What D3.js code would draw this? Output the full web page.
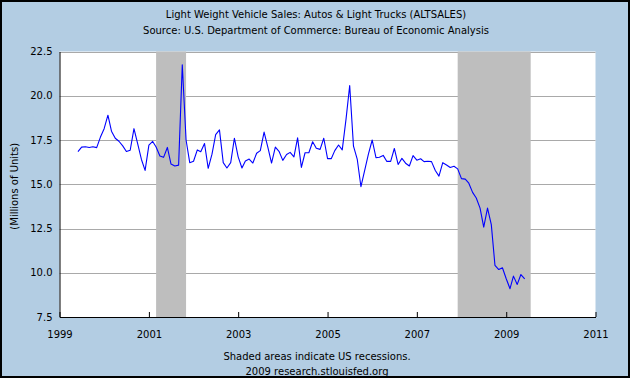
<!DOCTYPE html>
<html>
<head>
<meta charset="utf-8">
<script src="https://cdn.jsdelivr.net/npm/d3@7"></script>
<style>
  html, body { margin: 0; padding: 0; background: #fff; }
  svg { display: block; font-family: "DejaVu Sans", Verdana, sans-serif; }
</style>
</head>
<body>
<svg id="chart" width="630" height="378"></svg>
<script>
// ---- data ----
const titleLines = [
  "Light Weight Vehicle Sales: Autos & Light Trucks (ALTSALES)",
  "Source: U.S. Department of Commerce: Bureau of Economic Analysis"
];
const yAxisLabel = "(Millions of Units)";
const footerLines = ["Shaded areas indicate US recessions.", "2009 research.stlouisfed.org"];
const firstMonth = "1999-06-01";
const lastMonth = "2009-06-01";
const xTickYears = [1999, 2001, 2003, 2005, 2007, 2009, 2011];
const yTicks = [7.5, 10.0, 12.5, 15.0, 17.5, 20.0, 22.5];
const recessions = [["2001-03-01", "2001-11-01"], ["2007-12-01", "2009-07-20"]];
// monthly values, millions of units (SAAR), Jun 1999 .. Jun 2009
const sales = [
  16.84, 17.10, 17.12, 17.08, 17.12, 17.07, 17.65, 18.14, 18.90, 18.00, 17.60, 17.43,
  17.17, 16.85, 16.92, 18.14, 17.30, 16.40, 15.78, 17.21, 17.42, 17.10, 16.60, 16.52,
  17.08, 16.14, 16.03, 16.08, 21.75, 17.50, 16.22, 16.30, 16.94, 16.84, 17.30, 15.90,
  16.70, 17.80, 18.07, 16.22, 15.92, 16.22, 17.60, 16.55, 15.92, 16.32, 16.42, 16.20,
  16.75, 16.90, 17.95, 17.08, 16.20, 17.10, 16.86, 16.35, 16.68, 16.80, 16.55, 17.62,
  15.95, 16.78, 16.78, 17.40, 17.03, 16.97, 17.60, 16.45, 16.45, 16.90, 17.22, 16.94,
  18.68, 20.58, 17.15, 16.40, 14.86, 15.80, 16.70, 17.50, 16.50, 16.53, 16.63, 16.29,
  16.29, 17.02, 16.12, 16.46, 16.19, 16.03, 16.62, 16.36, 16.44, 16.28, 16.30, 16.28,
  15.78, 15.46, 16.22, 16.09, 15.95, 16.02, 15.87, 15.32, 15.29, 15.06, 14.54, 14.22,
  13.65, 12.58, 13.65, 12.72, 10.41, 10.18, 10.28, 9.66, 9.10, 9.81, 9.34, 9.90,
  9.66
];

// ---- layout ----
const W = 630, H = 378;
const plot = { left: 59.5, right: 595.5, top: 51.5, bottom: 317 };
const parse = d3.timeParse("%Y-%m-%d");
const months = d3.timeMonth.range(parse(firstMonth), d3.timeMonth.offset(parse(lastMonth), 1));
const series = months.map((d, i) => ({ date: d, value: sales[i] }));

const x = d3.scaleTime()
  .domain([new Date(xTickYears[0], 0, 1), new Date(xTickYears[xTickYears.length - 1], 0, 1)])
  .range([plot.left, plot.right]);
const y = d3.scaleLinear().domain([7.5, 22.5]).range([plot.bottom, plot.top]);

const svg = d3.select("#chart");

// background + border
svg.append("rect").attr("x", 0).attr("y", 0).attr("width", W).attr("height", H).attr("fill", "#b3cde3");
// plot area
svg.append("rect")
  .attr("x", plot.left).attr("y", plot.top)
  .attr("width", plot.right - plot.left).attr("height", plot.bottom - plot.top)
  .attr("fill", "#ffffff");

// gridlines
svg.append("g").selectAll("line").data(yTicks.filter(t => t > 7.5)).join("line")
  .attr("x1", plot.left).attr("x2", plot.right)
  .attr("y1", d => Math.round(y(d)) + 0.5).attr("y2", d => Math.round(y(d)) + 0.5)
  .attr("stroke", "#a9a9a9").attr("stroke-width", 1);

// recessions
svg.append("g").selectAll("rect").data(recessions).join("rect")
  .attr("x", d => x(parse(d[0])))
  .attr("width", d => x(parse(d[1])) - x(parse(d[0])))
  .attr("y", plot.top).attr("height", plot.bottom - plot.top)
  .attr("fill", "#bebebe");

// line
const line = d3.line().x(d => x(d.date)).y(d => y(d.value));
svg.append("path").datum(series)
  .attr("d", line)
  .attr("fill", "none")
  .attr("stroke", "#0000ff")
  .attr("stroke-width", 1.1)
  .attr("stroke-linejoin", "round");

// axes
const xAxis = d3.axisBottom(x)
  .tickValues(xTickYears.map(yr => new Date(yr, 0, 1)))
  .tickFormat(d3.timeFormat("%Y"))
  .tickSizeInner(-5).tickSizeOuter(0).tickPadding(14);
const gx = svg.append("g").attr("transform", `translate(0,${plot.bottom})`).call(xAxis);
gx.select(".domain").attr("stroke", "#000");
gx.selectAll(".tick line").attr("stroke", "#000");
gx.selectAll("text").attr("font-size", 10).attr("fill", "#000").attr("font-family", "DejaVu Sans");

const yAxis = d3.axisLeft(y)
  .tickValues(yTicks)
  .tickFormat(d3.format(".1f"))
  .tickSizeInner(0).tickSizeOuter(0).tickPadding(7);
const gy = svg.append("g").attr("transform", `translate(${plot.left},0)`).call(yAxis);
gy.select(".domain").attr("stroke", "#000");
gy.selectAll("text").attr("font-size", 10).attr("fill", "#000").attr("font-family", "DejaVu Sans");

// titles
svg.append("g").selectAll("text").data(titleLines).join("text")
  .attr("x", 316).attr("y", (d, i) => 18 + i * 15.5)
  .attr("text-anchor", "middle").attr("font-size", 10).attr("fill", "#000")
  .text(d => d);

svg.append("g").selectAll("text").data(footerLines).join("text")
  .attr("x", 317).attr("y", (d, i) => 360 + i * 15)
  .attr("text-anchor", "middle").attr("font-size", 10).attr("fill", "#000")
  .text(d => d);

svg.append("text")
  .attr("transform", `translate(18,${(plot.top + plot.bottom) / 2 + 2}) rotate(-90)`)
  .attr("text-anchor", "middle").attr("font-size", 10).attr("fill", "#000")
  .text(yAxisLabel);

// outer border
svg.append("rect").attr("x", 1).attr("y", 1).attr("width", W - 2).attr("height", H - 2)
  .attr("fill", "none").attr("stroke", "#000").attr("stroke-width", 2);
</script>
</body>
</html>
